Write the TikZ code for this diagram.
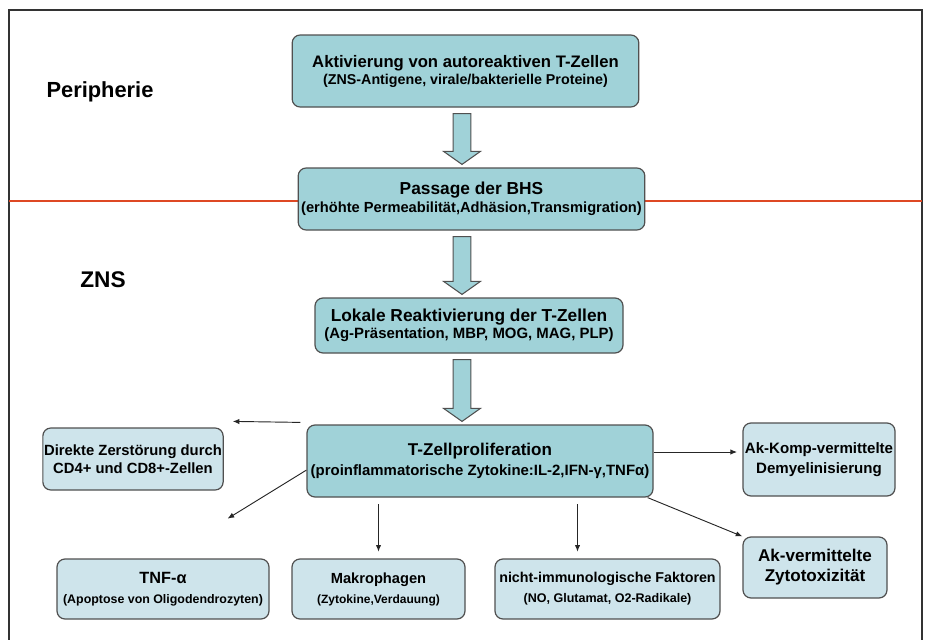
\documentclass[tikz,border=0pt]{standalone}
\usepackage{fontspec}
\setmainfont{Liberation Sans}
\usetikzlibrary{calc,arrows.meta}

\definecolor{tuerkis}{RGB}{160,210,216}
\definecolor{hellblau}{RGB}{206,228,235}
\definecolor{rahmengrau}{RGB}{80,80,80}
\definecolor{grenzrot}{RGB}{222,72,36}

\tikzset{
  kasten/.style={draw=rahmengrau, line width=0.9pt, rounded corners=6pt,
    fill=tuerkis, align=center, inner sep=1pt},
  kleinkasten/.style={kasten, fill=hellblau},
  pfeil/.style={-{Latex[length=5pt,width=4pt]}, line width=0.7pt, draw=black!85},
  blockpfeil/.style={draw=rahmengrau, line width=0.8pt, fill=tuerkis},
}

\begin{document}
\begin{tikzpicture}[x=0.75pt,y=-0.75pt]
  \useasboundingbox (0,0) rectangle (928,639);
  % frame and border line
  \draw[black!80, line width=0.9pt] (9,660) |- (922,10) -- (922,660);
  \draw[grenzrot, line width=1.5pt] (9,201) -- (922,201);

  \node[font=\bfseries\fontsize{16.4}{18}\selectfont] (peri) at (100,92) {Peripherie};
  \node[font=\bfseries\fontsize{17}{18}\selectfont] (zns) at (103,280) {ZNS};

  % main chain
  \node[kasten, minimum width=260pt, minimum height=54pt,
    font=\bfseries\fontsize{10.7}{12.75}\selectfont] (akt) at (465.5,71)
    {{\fontsize{12.5}{13}\selectfont Aktivierung von autoreaktiven T-Zellen}\\(ZNS-Antigene, virale/bakterielle Proteine)};
  \node[kasten, minimum width=260pt, minimum height=46.5pt,
    font=\bfseries\fontsize{11}{13.5}\selectfont] (pass) at (471.5,199)
    {{\fontsize{13}{13}\selectfont Passage der BHS}\\(erhöhte Permeabilität,Adhäsion,Transmigration)};
  \node[kasten, minimum width=231pt, minimum height=41.25pt,
    font=\bfseries\fontsize{11.2}{12.75}\selectfont] (lokal) at (469,325.5)
    {{\fontsize{13}{13}\selectfont Lokale Reaktivierung der T-Zellen}\\(Ag-Präsentation, MBP, MOG, MAG, PLP)};
  \node[kasten, minimum width=259.5pt, minimum height=54pt,
    font=\bfseries\fontsize{11.2}{15}\selectfont] (prolif) at (480,461)
    {{\fontsize{12.8}{13}\selectfont T-Zellproliferation}\\(proinflammatorische Zytokine:IL-2,IFN-γ,TNFα)};

  % effects
  \node[kleinkasten, minimum width=135pt, minimum height=46.5pt,
    font=\bfseries\fontsize{11.1}{13.5}\selectfont] (direkt) at (133,459)
    {Direkte Zerstörung durch\\CD4+ und CD8+-Zellen};
  \node[kleinkasten, minimum width=114pt, minimum height=54.75pt,
    font=\bfseries\fontsize{11.3}{15}\selectfont] (akkomp) at (819,459.5)
    {Ak-Komp-vermittelte\\Demyelinisierung};
  \node[kleinkasten, minimum width=159pt, minimum height=45pt,
    font=\bfseries\fontsize{9.3}{15}\selectfont] (tnf) at (163,589)
    {{\fontsize{12.2}{13}\selectfont TNF-α}\\(Apoptose von Oligodendrozyten)};
  \node[kleinkasten, minimum width=129.75pt, minimum height=45pt,
    font=\bfseries\fontsize{9}{15}\selectfont] (makro) at (378.5,589)
    {{\fontsize{11}{13}\selectfont Makrophagen}\\(Zytokine,Verdauung)};
  \node[kleinkasten, minimum width=168.75pt, minimum height=45pt,
    font=\bfseries\fontsize{9.4}{15}\selectfont] (nicht) at (607.5,589)
    {{\fontsize{10.7}{13}\selectfont nicht-immunologische Faktoren}\\(NO, Glutamat, O2-Radikale)};
  \node[kleinkasten, minimum width=108pt, minimum height=45.75pt,
    font=\bfseries\fontsize{12.8}{15}\selectfont] (akverm) at (815,567.5)
    {Ak-vermittelte\\Zytotoxizität};

  % block arrows
  \coordinate (achse) at (462,0);
  \foreach \a/\b in {akt/pass,pass/lokal,lokal/prolif}
    \draw[blockpfeil] let \p1=(achse |- \a.south), \p2=(achse |- \b.north) in
      (\x1-6.7pt,\y1-4.5pt) -- (\x1+6.7pt,\y1-4.5pt) -- (\x1+6.7pt,\y2+12pt)
      -- (\x1+13.8pt,\y2+12pt) -- (\x1,\y2+2.25pt) -- (\x1-13.8pt,\y2+12pt)
      -- (\x1-6.7pt,\y2+12pt) -- cycle;

  % thin arrows
  \coordinate (nichtein) at ($(nicht.north)+(-30,0)$);
  \draw[pfeil] ($(prolif.north west)+(-6,-2)$) -- ($(direkt.north east)+(9,-6)$);
  \draw[pfeil] (prolif.183) -- ($(tnf.north)!0.45!(prolif.183)$);
  \draw[pfeil, shorten <=5pt, shorten >=5pt] (prolif.south -| makro.north) -- (makro.north);
  \draw[pfeil, shorten <=5pt, shorten >=5pt] (prolif.south -| nichtein) -- (nichtein);
  \draw[pfeil, shorten >=4pt] ([yshift=6.75pt]prolif.east) -- ([yshift=6.75pt]prolif.east -| akkomp.west);
  \draw[pfeil] ($(prolif.south east)+(-6,0)$) -- (akverm.north west);
\end{tikzpicture}
\end{document}
